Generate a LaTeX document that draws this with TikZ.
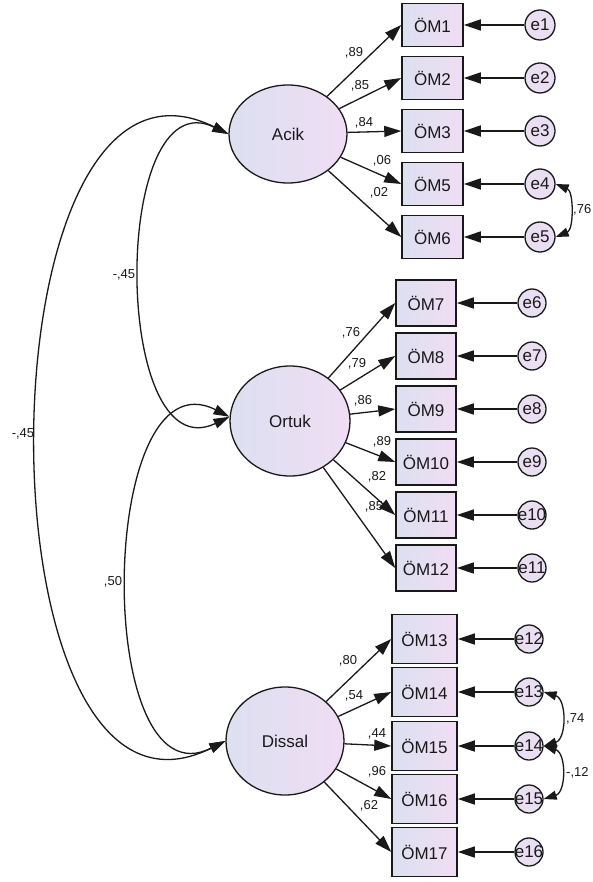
\documentclass[tikz,border=0pt]{standalone}
\usepackage{fontspec}
\setmainfont{Liberation Sans}
\usetikzlibrary{shapes.geometric,arrows.meta}
\definecolor{fillL}{RGB}{220,224,240}
\definecolor{fillR}{RGB}{240,221,244}
\definecolor{errfill}{RGB}{234,222,242}
\definecolor{ink}{RGB}{25,25,25}
\tikzset{
  latent/.style={ellipse, draw=ink, line width=1.3pt, left color=fillL, right color=fillR,
    inner sep=0pt, font=\fontsize{17}{20}\selectfont, text=ink},
  obs/.style={rectangle, draw=ink, line width=1.5pt, left color=fillL, right color=fillR,
    inner sep=0pt, font=\fontsize{17}{20}\selectfont, text=ink},
  obsA/.style={obs, minimum width=61pt, minimum height=43pt},
  obsB/.style={obs, minimum width=60pt, minimum height=46pt},
  obsC/.style={obs, minimum width=65pt, minimum height=49pt},
  err/.style={circle, draw=ink, line width=1.3pt, fill=errfill, inner sep=-4pt,
    font=\fontsize{17}{20}\selectfont, text=ink},
  load/.style={draw=ink, line width=1.3pt, -{Triangle[length=17pt,width=11pt]}},
  cov/.style={draw=ink, line width=1.3pt,
    {Triangle[length=16pt,width=10pt]}-{Triangle[length=16pt,width=10pt]}},
  ecov/.style={draw=ink, line width=1.3pt,
    {Triangle[length=13pt,width=9pt]}-{Triangle[length=13pt,width=9pt]}},
  lab/.style={font=\fontsize{13}{15}\selectfont, text=ink, inner sep=0pt},
}
\begin{document}
\begin{tikzpicture}[x=1pt,y=-1pt]
\useasboundingbox (0,0) rectangle (592,882);

% latent variables
\node[latent, minimum width=118pt, minimum height=98pt] (Acik) at (288,134) {Acik};
\node[latent, minimum width=120pt, minimum height=110pt] (Ortuk) at (290,421) {Ortuk};
\node[latent, minimum width=118pt, minimum height=108pt] (Dissal) at (285,741) {Dissal};

% observed, group 1
\node[obsA] (O1) at (432.5,25) {ÖM1};
\node[obsA] (O2) at (432.5,78) {ÖM2};
\node[obsA] (O3) at (432.5,131) {ÖM3};
\node[obsA] (O5) at (432.5,184) {ÖM5};
\node[obsA] (O6) at (432.5,237) {ÖM6};
% observed, group 2
\node[obsB] (O7) at (426,303) {ÖM7};
\node[obsB] (O8) at (426,356) {ÖM8};
\node[obsB] (O9) at (426,409) {ÖM9};
\node[obsB] (O10) at (426,462) {ÖM10};
\node[obsB] (O11) at (426,515) {ÖM11};
\node[obsB] (O12) at (426,568) {ÖM12};
% observed, group 3
\node[obsC] (O13) at (424.5,639) {ÖM13};
\node[obsC] (O14) at (424.5,692) {ÖM14};
\node[obsC] (O15) at (424.5,746) {ÖM15};
\node[obsC] (O16) at (424.5,799) {ÖM16};
\node[obsC] (O17) at (424.5,852) {ÖM17};

% errors
\node[err, minimum size=30pt] (e1) at (540,25) {e1};
\node[err, minimum size=30pt] (e2) at (540,78) {e2};
\node[err, minimum size=30pt] (e3) at (540,131) {e3};
\node[err, minimum size=30pt] (e4) at (540,184) {e4};
\node[err, minimum size=30pt] (e5) at (540,237) {e5};
\node[err, minimum size=28pt] (e6) at (532,303) {e6};
\node[err, minimum size=28pt] (e7) at (532,356) {e7};
\node[err, minimum size=28pt] (e8) at (532,409) {e8};
\node[err, minimum size=28pt] (e9) at (532,462) {e9};
\node[err, minimum size=28pt] (e10) at (532,515) {e10};
\node[err, minimum size=28pt] (e11) at (532,568) {e11};
\node[err, minimum size=28pt] (e12) at (529,639) {e12};
\node[err, minimum size=28pt] (e13) at (529,692) {e13};
\node[err, minimum size=28pt] (e14) at (529,746) {e14};
\node[err, minimum size=28pt] (e15) at (529,799) {e15};
\node[err, minimum size=28pt] (e16) at (529,852) {e16};

% error arrows
\foreach \e/\o in {e1/O1,e2/O2,e3/O3,e4/O5,e5/O6,e6/O7,e7/O8,e8/O9,e9/O10,e10/O11,e11/O12,e12/O13,e13/O14,e14/O15,e15/O16,e16/O17}
  \draw[load] (\e) -- (\o);

% loadings
\foreach \o in {O1,O2,O3,O5,O6} \draw[load] (Acik) -- (\o.west);
\foreach \o in {O7,O8,O9,O10,O11,O12} \draw[load] (Ortuk) -- (\o.west);
\foreach \o in {O13,O14,O15,O16,O17} \draw[load] (Dissal) -- (\o.west);

% loading labels
\node[lab] (l1) at (354,53) {,89};
\node[lab] (l2) at (360,86) {,85};
\node[lab] (l3) at (364,123) {,84};
\node[lab] (l5) at (382,161) {,06};
\node[lab] (l6) at (379,193) {,02};
\node[lab] (l7) at (351,333) {,76};
\node[lab] (l8) at (357,364) {,79};
\node[lab] (l9) at (363,401) {,86};
\node[lab] (l10) at (382,442) {,89};
\node[lab] (l11) at (377,477) {,82};
\node[lab] (l12) at (374,507) {,85};
\node[lab] (l13) at (348,661) {,80};
\node[lab] (l14) at (354,696) {,54};
\node[lab] (l15) at (377,734) {,44};
\node[lab] (l16) at (377,772) {,96};
\node[lab] (l17) at (369,806) {,62};

% latent covariances
\draw[cov] (Acik.west) .. controls +(-118,-57) and +(-118,56) .. (Ortuk.176);
\draw[cov] (Acik.west) .. controls +(-253,-126) and +(-253,127) .. (Dissal.west);
\draw[cov] (Ortuk.176) .. controls +(-133,-67) and +(-133,67) .. (Dissal.west);
\node[lab] (c1) at (124,275) {-,45};
\node[lab] (c2) at (23,434) {-,45};
\node[lab] (c3) at (113,582) {,50};

% error covariances
\draw[ecov] (e4.east) to[out=-22,in=22,looseness=0.95] (e5.east);
\draw[ecov] (e13.east) to[out=-17,in=17,looseness=1.15] (e14.east);
\draw[ecov] (e14.east) to[out=-17,in=17,looseness=1.15] (e15.east);
\node[lab, anchor=east] (c4) at (591.5,210) {,76};
\node[lab, anchor=west] (c5) at (566,719) {,74};
\node[lab, anchor=west] (c6) at (566,773) {-,12};
\end{tikzpicture}
\end{document}
